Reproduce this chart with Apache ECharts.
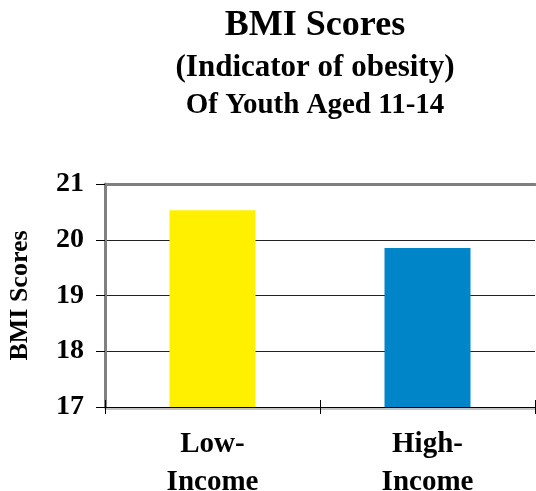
<!DOCTYPE html>
<html>
<head>
<meta charset="utf-8">
<script src="https://cdn.jsdelivr.net/npm/echarts@6/dist/echarts.min.js"></script>
<style>
html,body{margin:0;padding:0;background:#fff;}
#c{width:536px;height:491px;}
</style>
</head>
<body>
<div id="c"></div>
<script>
const titleLines = ['BMI Scores', '(Indicator of obesity)', 'Of Youth Aged 11-14'];
const categories = ['Low-\nIncome', 'High-\nIncome'];
const values = [20.53, 19.85];
const barColors = ['#FFF000', '#0085C8'];
const yName = 'BMI Scores';
const yMin = 17, yMax = 21, yStep = 1;

const FONT = '"Liberation Serif", "Times New Roman", serif';
const chart = echarts.init(document.getElementById('c'), null, {renderer: 'canvas'});

chart.setOption({
  animation: false,
  backgroundColor: '#fff',
  graphic: [
    {type: 'text', x: 315, y: 26, style: {text: titleLines[0], font: 'bold 36px ' + FONT, fill: '#000', align: 'center', verticalAlign: 'middle'}},
    {type: 'text', x: 315, y: 68, style: {text: titleLines[1], font: 'bold 31px ' + FONT, fill: '#000', align: 'center', verticalAlign: 'middle'}},
    {type: 'text', x: 315, y: 105.5, style: {text: titleLines[2], font: 'bold 29px ' + FONT, fill: '#000', align: 'center', verticalAlign: 'middle'}}
  ],
  grid: {left: 105, right: 1, top: 184, bottom: 84, containLabel: false, outerBoundsMode: 'none'},
  xAxis: [
    {
      type: 'category', data: categories, position: 'bottom',
      axisLine: {show: true, lineStyle: {color: '#000', width: 1, shadowColor: '#888', shadowOffsetY: 1.5, shadowBlur: 0}},
      axisTick: {show: true, inside: false, length: 7, lineStyle: {color: '#000', width: 1}},
      axisLabel: {fontFamily: FONT, fontWeight: 'bold', fontSize: 29, lineHeight: 38, color: '#000', margin: 19},
      splitLine: {show: false}
    },
    {
      type: 'category', data: categories, position: 'bottom', offset: 0,
      axisLine: {show: false},
      axisTick: {show: true, inside: true, length: 7, lineStyle: {color: '#000', width: 1}},
      axisLabel: {show: false},
      splitLine: {show: false}
    },
    {
      type: 'category', data: categories, position: 'top',
      axisLine: {show: true, lineStyle: {color: '#808080', width: 3}},
      axisTick: {show: false},
      axisLabel: {show: false},
      splitLine: {show: false}
    }
  ],
  yAxis: {
    type: 'value', min: yMin, max: yMax, interval: yStep,
    name: yName, nameLocation: 'middle', nameRotate: 90, nameGap: 72,
    nameTextStyle: {fontFamily: FONT, fontWeight: 'bold', fontSize: 26, color: '#000'},
    axisLine: {show: true, lineStyle: {color: '#808080', width: 3}},
    axisTick: {show: true, inside: false, length: 9, lineStyle: {color: '#000', width: 1}},
    axisLabel: {fontFamily: FONT, fontWeight: 'bold', fontSize: 28, color: '#000', margin: 21},
    splitLine: {show: true, lineStyle: {color: '#222', width: 1}}
  },
  series: [{
    type: 'bar',
    xAxisIndex: 0,
    barWidth: '40%',
    data: values.map((v, i) => ({value: v, itemStyle: {color: barColors[i]}}))
  }]
});
</script>
</body>
</html>
